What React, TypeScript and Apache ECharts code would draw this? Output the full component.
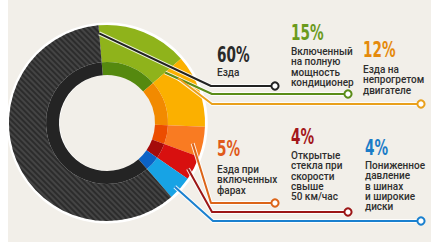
import React, { useEffect, useRef } from "react";
import * as echarts from "echarts";

// ---- data (clockwise from top) ----
const categories = [
  "Включенный на полную мощность кондиционер",
  "Езда на непрогретом двигателе",
  "Езда при включенных фарах",
  "Открытые стекла при скорости свыше 50 км/час",
  "Пониженное давление в шинах и широкие диски",
  "Езда",
];
const values = [15, 12, 5, 4, 4, 60];
const percentLabels = ["15%", "12%", "5%", "4%", "4%", "60%"];
const bodyLines = [
  ["Включенный", "на полную", "мощность", "кондиционер"],
  ["Езда на", "непрогретом", "двигателе"],
  ["Езда при", "включенных", "фарах"],
  ["Открытые", "стекла при", "скорости", "свыше", "50 км/час"],
  ["Пониженное", "давление", "в шинах", "и широкие", "диски"],
  ["Езда"],
];

// ---- styles ----
const outerColors = ["#8fb31b", "#fbb000", "#f97b22", "#d8100f", "#17a3e5", "#444444"];
const innerColors = ["#55890f", "#f28a00", "#ec4d00", "#a50b0b", "#0b63c6", "#242424"];
const lineColors = ["#5a8c18", "#e9a01c", "#dc6418", "#9c1616", "#1a80cf", "#222222"];
const headColors = ["#6b9a1c", "#e58a0c", "#e05a1a", "#a3161a", "#1b7cc7", "#2a2a2a"];

// layout (annotation positions)
const CX = 107, CY = 123;
const R_HOLE = 48, R_MID = 61, R_OUT = 98, R_EDGE = 100.5;
const START = -5; // degrees clockwise from 12 o'clock
const leaderFrac = [1.0, 0.2, 0.62, 0.64, 0.6, 1.0];
const leaderR = [77, 84, 88, 93, 93, 90];
const leaderY = [94, 104, 203, 212, 221, 86];
const bendX = [212, 212, 211, 212, 213, 211];
const endX = [348, 421, 275, 348, 421, 275];
const headPos = [[291, 33], [363, 50], [217, 149], [291, 137], [365, 148], [217, 55]];
const bodyTop = [46, 64, 164, 150, 160, 67];

export default function App() {
  const ref = useRef<HTMLDivElement>(null);
  useEffect(() => {
    if (!ref.current) return;
    const chart = echarts.init(ref.current, null, { renderer: "svg" });
    const total = values.reduce((a, b) => a + b, 0);
    let cum = 0;
    const graphics: any[] = [
      { type: "rect", z: -100, shape: { x: 8, y: 0, width: 423, height: 242 }, style: { fill: "#f2efe9" } },
    ];
    values.forEach((v, i) => {
      const a0 = START + (cum / total) * 360;
      const a1 = START + ((cum + v) / total) * 360;
      cum += v;
      const th = ((a0 + (a1 - a0) * leaderFrac[i]) * Math.PI) / 180;
      const sx = CX + leaderR[i] * Math.sin(th);
      const sy = CY - leaderR[i] * Math.cos(th);
      const pts = [[sx, sy], [bendX[i], leaderY[i]], [endX[i] - 4, leaderY[i]]];
      graphics.push({
        type: "polyline", z: 100, shape: { points: pts },
        style: { stroke: "rgba(255,255,255,0.85)", lineWidth: 4, fill: null, lineJoin: "round" },
      });
      graphics.push({
        type: "polyline", z: 101, shape: { points: pts },
        style: { stroke: lineColors[i], lineWidth: 2, fill: null, lineJoin: "round" },
      });
      graphics.push({
        type: "circle", z: 102, shape: { cx: endX[i], cy: leaderY[i], r: 3.6 },
        style: { fill: "#ffffff", stroke: lineColors[i], lineWidth: 2 },
      });
      graphics.push({
        type: "text", z: 103, x: headPos[i][0], y: headPos[i][1], scaleX: 0.72,
        style: {
          text: percentLabels[i], x: 0, y: 0, fill: headColors[i],
          fontFamily: "'DejaVu Sans Condensed', 'DejaVu Sans', sans-serif",
          fontWeight: "bold", fontSize: 21, textVerticalAlign: "middle", textAlign: "left",
        },
      });
      graphics.push({
        type: "text", z: 103, x: headPos[i][0], y: bodyTop[i],
        style: {
          text: bodyLines[i].join("\n"), x: 0, y: 0, fill: "#2e2e2e",
          fontFamily: "Roboto, 'Noto Sans', sans-serif", fontWeight: 500, fontSize: 10,
          lineHeight: 10.4, textVerticalAlign: "top", textAlign: "left",
        },
      });
    });

    const baseSeries = {
      type: "pie",
      center: [CX, CY],
      clockwise: true,
      startAngle: 90 - START,
      silent: true,
      avoidLabelOverlap: false,
      label: { show: false },
      labelLine: { show: false },
      emphasis: { disabled: true },
    };
    chart.setOption({
      animation: false,
      backgroundColor: "#ffffff",
      series: [
        {
          ...baseSeries, z: 1, radius: [R_HOLE, R_EDGE],
          data: [{ value: 1, name: "edge", itemStyle: { color: "#ffffff", borderWidth: 0 } }],
        },
        {
          ...baseSeries, z: 2, radius: [R_MID, R_OUT],
          data: values.map((v, i) => ({
            value: v, name: categories[i],
            itemStyle: {
              color: outerColors[i], borderWidth: 0,
              decal: i === 5 ? {
                symbol: "rect", symbolSize: 1, color: "rgba(0,0,0,0.35)",
                dashArrayX: [1, 0], dashArrayY: [1.5, 1.5], rotation: Math.PI / 4,
              } : undefined,
            },
          })),
        },
        {
          ...baseSeries, z: 2, radius: [R_HOLE, R_MID],
          data: values.map((v, i) => ({
            value: v, name: categories[i] + " ",
            itemStyle: { color: innerColors[i], borderWidth: 0 },
          })),
        },
      ],
      graphic: graphics,
    });
    return () => chart.dispose();
  }, []);
  return <div ref={ref} style={{ position: "fixed", left: 0, top: 0, width: 431, height: 247 }} />;
}
